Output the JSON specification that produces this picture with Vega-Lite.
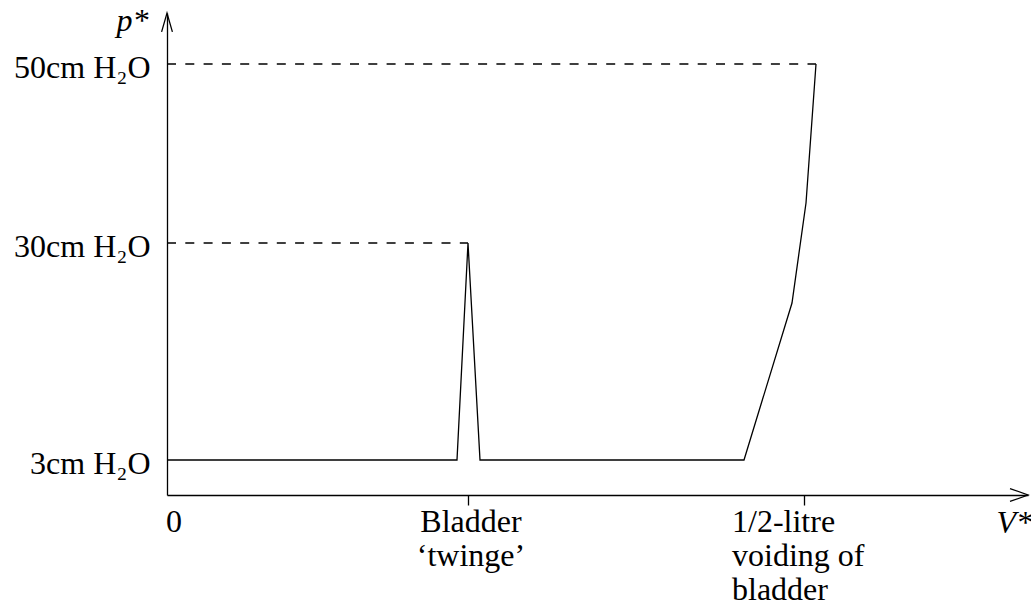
{
  "$schema": "https://vega.github.io/schema/vega-lite/v6.json",
  "width": 861,
  "height": 482,
  "autosize": {"type": "none"},
  "padding": {"left": 167, "top": 13, "right": 3, "bottom": 113},
  "background": "white",
  "config": {
    "view": {"stroke": null},
    "font": "Liberation Serif"
  },
  "datasets": {
    "curve": [
      {"i": 0, "v": 0, "p": 35},
      {"i": 1, "v": 290, "p": 35},
      {"i": 2, "v": 301, "p": 252},
      {"i": 3, "v": 313, "p": 35},
      {"i": 4, "v": 577, "p": 35},
      {"i": 5, "v": 625, "p": 192},
      {"i": 6, "v": 639, "p": 292},
      {"i": 7, "v": 649, "p": 431}
    ],
    "guides": [
      {"level": "50cm", "v0": 0, "v": 649, "p": 431},
      {"level": "30cm", "v0": 0, "v": 301, "p": 252}
    ],
    "arrows": [
      {"dir": "right", "v": 861, "p": 0},
      {"dir": "up", "v": 0, "p": 482}
    ],
    "xcenter": [
      {"v": 7, "p": 0, "t": ["0"]},
      {"v": 304, "p": 0, "t": ["Bladder", "‘twinge’"]}
    ],
    "xleft": [
      {"v": 565, "p": 0, "t": ["1/2-litre", "voiding of", "bladder"]}
    ]
  },
  "layer": [
    {
      "data": {"name": "curve"},
      "mark": {"type": "line", "color": "black", "strokeWidth": 1.3},
      "encoding": {
        "x": {
          "field": "v", "type": "quantitative",
          "scale": {"domain": [0, 861], "nice": false, "zero": false},
          "axis": {
            "values": [301, 637],
            "labels": false,
            "grid": false,
            "tickSize": 10,
            "tickColor": "black",
            "tickWidth": 1.3,
            "domainColor": "black",
            "domainWidth": 1.3,
            "title": "V*",
            "titleFont": "Liberation Serif",
            "titleFontSize": 32,
            "titleFontStyle": "italic",
            "titleFontWeight": "normal",
            "titleColor": "black",
            "titleAlign": "left",
            "titleBaseline": "alphabetic",
            "titleX": 829,
            "titleY": 37
          }
        },
        "y": {
          "field": "p", "type": "quantitative",
          "scale": {"domain": [0, 482], "nice": false, "zero": false},
          "axis": {
            "values": [35, 252, 431],
            "labelExpr": "datum.value == 431 ? '50cm H₂O' : datum.value == 252 ? '30cm H₂O' : '3cm H₂O'",
            "ticks": false,
            "grid": false,
            "labelFont": "Liberation Serif",
            "labelFontSize": 32,
            "labelColor": "black",
            "labelPadding": 17,
            "labelOffset": 3,
            "domainColor": "black",
            "domainWidth": 1.3,
            "title": "p*",
            "titleAngle": 0,
            "titleFont": "Liberation Serif",
            "titleFontSize": 32,
            "titleFontStyle": "italic",
            "titleFontWeight": "normal",
            "titleColor": "black",
            "titleAlign": "right",
            "titleBaseline": "alphabetic",
            "titleX": -19,
            "titleY": 17
          }
        },
        "order": {"field": "i", "type": "quantitative"}
      }
    },
    {
      "data": {"name": "guides"},
      "mark": {"type": "rule", "color": "black", "strokeWidth": 1.3, "strokeDash": [9, 9.3]},
      "encoding": {
        "x": {"field": "v0", "type": "quantitative"},
        "x2": {"field": "v"},
        "y": {"field": "p", "type": "quantitative"}
      }
    },
    {
      "data": {"name": "arrows"},
      "mark": {"type": "point", "filled": false, "color": "black", "strokeWidth": 1.3, "size": 1296, "opacity": 1},
      "encoding": {
        "x": {"field": "v", "type": "quantitative"},
        "y": {"field": "p", "type": "quantitative"},
        "shape": {
          "field": "dir", "type": "nominal",
          "scale": {"domain": ["right", "up"], "range": ["M-1,-0.36L0,0L-1,0.36", "M-0.3,1.05L0,0L0.3,1.05"]},
          "legend": null
        }
      }
    },
    {
      "data": {"name": "xcenter"},
      "mark": {"type": "text", "align": "center", "baseline": "alphabetic", "dy": 37, "fontSize": 32, "lineHeight": 34, "color": "black", "font": "Liberation Serif"},
      "encoding": {
        "x": {"field": "v", "type": "quantitative"},
        "y": {"field": "p", "type": "quantitative"},
        "text": {"field": "t", "type": "nominal"}
      }
    },
    {
      "data": {"name": "xleft"},
      "mark": {"type": "text", "align": "left", "baseline": "alphabetic", "dy": 37, "fontSize": 32, "lineHeight": 34, "color": "black", "font": "Liberation Serif"},
      "encoding": {
        "x": {"field": "v", "type": "quantitative"},
        "y": {"field": "p", "type": "quantitative"},
        "text": {"field": "t", "type": "nominal"}
      }
    }
  ]
}
